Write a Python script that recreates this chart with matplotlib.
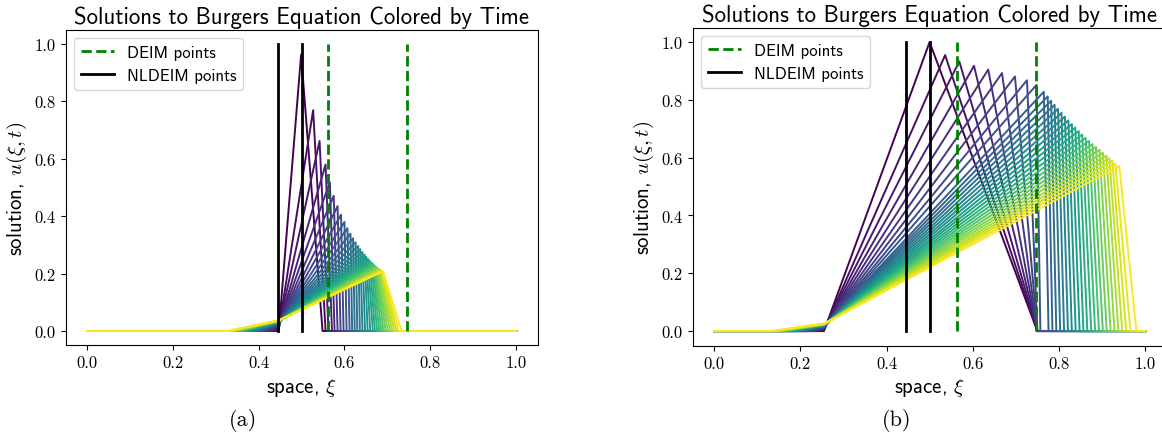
import numpy as np
import matplotlib
matplotlib.use("Agg")
import matplotlib.pyplot as plt

plt.rcParams['font.family'] = 'cmss10'
plt.rcParams['mathtext.fontset'] = 'cm'
plt.rcParams['axes.unicode_minus'] = False

# sample points (interpolation points) drawn as vertical lines
deim_pts = [0.5625, 0.7461]
nldeim_pts = [0.4453, 0.5020]

# ---- panel (a): narrow pulse (one entry per curve) ----
anchor_x_a = 0.447
tail_a = [0.445, 0.44, 0.435, 0.43, 0.425, 0.42, 0.415, 0.41, 0.405, 0.40, 0.396, 0.392,
          0.388, 0.384, 0.380, 0.376, 0.372, 0.368, 0.365, 0.362, 0.359, 0.356, 0.353, 0.350,
          0.347, 0.344, 0.341, 0.338, 0.335, 0.332, 0.329, 0.326]
anchor_u_a = [0.0, 0.008, 0.012, 0.015, 0.018, 0.020, 0.022, 0.024, 0.025, 0.026, 0.027, 0.028,
              0.029, 0.030, 0.030, 0.031, 0.031, 0.032, 0.032, 0.033, 0.033, 0.034, 0.034, 0.034,
              0.035, 0.035, 0.035, 0.036, 0.036, 0.036, 0.037, 0.037]
peak_x_a = [0.499, 0.527, 0.542, 0.556, 0.566, 0.575, 0.584, 0.592, 0.600, 0.607, 0.614, 0.620,
            0.626, 0.632, 0.637, 0.642, 0.647, 0.651, 0.655, 0.659, 0.663, 0.666, 0.669, 0.672,
            0.675, 0.677, 0.680, 0.682, 0.684, 0.686, 0.688, 0.690]
peak_u_a = [0.963, 0.769, 0.662, 0.580, 0.518, 0.471, 0.435, 0.405, 0.380, 0.358, 0.339, 0.323,
            0.309, 0.296, 0.285, 0.275, 0.266, 0.258, 0.251, 0.245, 0.239, 0.234, 0.230, 0.226,
            0.222, 0.219, 0.216, 0.214, 0.212, 0.210, 0.209, 0.208]
foot_a = [0.549, 0.556, 0.563, 0.571, 0.577, 0.584, 0.591, 0.598, 0.605, 0.612, 0.618, 0.624,
          0.630, 0.636, 0.642, 0.648, 0.654, 0.660, 0.666, 0.671, 0.676, 0.681, 0.686, 0.691,
          0.696, 0.701, 0.706, 0.711, 0.716, 0.721, 0.726, 0.733]

# ---- panel (b): wide triangle ----
anchor_x_b = 0.255
tail_b = [0.253, 0.25, 0.245, 0.24, 0.235, 0.23, 0.225, 0.22, 0.215, 0.21, 0.205, 0.20,
          0.196, 0.192, 0.188, 0.184, 0.180, 0.176, 0.172, 0.168, 0.165, 0.162, 0.159, 0.156,
          0.153, 0.150, 0.147, 0.144, 0.141, 0.138, 0.135, 0.132]
anchor_u_b = [0.0, 0.004, 0.007, 0.009, 0.011, 0.012, 0.013, 0.014, 0.015, 0.016, 0.017, 0.017,
              0.018, 0.018, 0.019, 0.019, 0.020, 0.020, 0.021, 0.021, 0.022, 0.022, 0.022, 0.023,
              0.023, 0.023, 0.024, 0.024, 0.024, 0.025, 0.025, 0.025]
peak_x_b = [0.500, 0.536, 0.569, 0.603, 0.636, 0.668, 0.698, 0.726, 0.748,
            0.765, 0.774, 0.782, 0.790, 0.798, 0.806, 0.814, 0.822, 0.830, 0.838, 0.846, 0.854,
            0.862, 0.870, 0.878, 0.886, 0.894, 0.902, 0.910, 0.917, 0.924, 0.931, 0.940]
peak_u_b = [1.000, 0.955, 0.933, 0.918, 0.905, 0.893, 0.881, 0.868, 0.852,
            0.828, 0.812, 0.797, 0.783, 0.769, 0.755, 0.742, 0.729, 0.716, 0.704, 0.692, 0.680,
            0.669, 0.658, 0.647, 0.637, 0.627, 0.617, 0.607, 0.598, 0.589, 0.580, 0.571]
foot_b = [0.750, 0.750, 0.750, 0.750, 0.750, 0.750, 0.750, 0.750, 0.757,
          0.776, 0.785, 0.794, 0.803, 0.812, 0.821, 0.830, 0.839, 0.848, 0.857, 0.866, 0.875,
          0.884, 0.893, 0.902, 0.911, 0.920, 0.929, 0.938, 0.947, 0.956, 0.966, 0.980]

xticks = [0.0, 0.2, 0.4, 0.6, 0.8, 1.0]
tick_labels = ['0.0', '0.2', '0.4', '0.6', '0.8', '1.0']

fig = plt.figure(figsize=(11.62, 4.39), dpi=100)
ax_a = fig.add_axes([0.0564, 0.211, 0.4062, 0.7194])
ax_b = fig.add_axes([0.596, 0.2107, 0.408, 0.724])

panels = [
    (ax_a, anchor_x_a, tail_a, anchor_u_a, peak_x_a, peak_u_a, foot_a),
    (ax_b, anchor_x_b, tail_b, anchor_u_b, peak_x_b, peak_u_b, foot_b),
]

for ax, ax0, tail, au, px, pu, foot in panels:
    colors = plt.cm.viridis(np.linspace(0, 1, len(px)))
    for i in range(len(px)):
        xs = [0.0, tail[i], ax0, px[i], foot[i], 1.0]
        us = [0.0, 0.0, au[i], pu[i], 0.0, 0.0]
        ax.plot(xs, us, color=colors[i], lw=1.4, solid_joinstyle='round')

    for k, p in enumerate(deim_pts):
        ax.plot([p, p], [0, 1], 'g--', lw=2, label='DEIM points' if k == 0 else None)
    for k, p in enumerate(nldeim_pts):
        ax.plot([p, p], [0, 1], 'k-', lw=2, label='NLDEIM points' if k == 0 else None)

    ax.set_xlim(-0.05, 1.05)
    ax.set_ylim(-0.05, 1.05)
    ax.set_xticks(xticks)
    ax.set_xticklabels(tick_labels, fontfamily='cmr10', fontsize=12)
    ax.set_yticks(xticks)
    ax.set_yticklabels(tick_labels, fontfamily='cmr10', fontsize=12)
    ax.set_title('Solutions to Burgers Equation Colored by Time', fontsize=16.5, pad=5)
    ax.set_xlabel('space, $\\xi$', fontsize=15)
    ax.set_ylabel('solution, $u(\\xi, t)$', fontsize=15)
    ax.legend(loc='upper left', fontsize=12)

fig.text(243 / 1162, 1 - 421 / 439, '(a)', family='cmr10', fontsize=16, ha='center', va='center')
fig.text(897 / 1162, 1 - 421 / 439, '(b)', family='cmr10', fontsize=16, ha='center', va='center')

fig.savefig('out.png', dpi=100)
